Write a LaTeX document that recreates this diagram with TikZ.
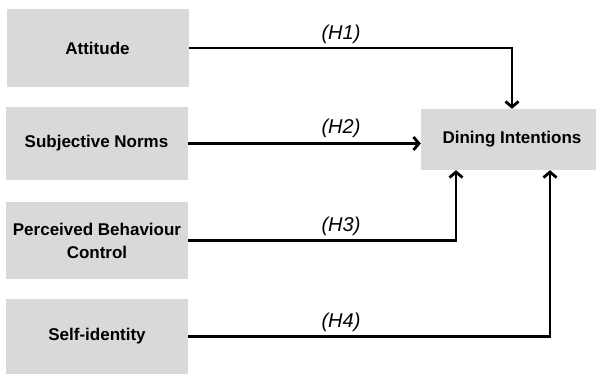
\documentclass[tikz,border=0pt]{standalone}
\usepackage{fontspec}
\setmainfont{Liberation Sans}
\usetikzlibrary{arrows.meta}
\definecolor{boxgray}{RGB}{217,217,217}
\tikzset{
  box/.style={fill=boxgray, draw=none, minimum width=182pt, align=center, inner sep=0pt,
    font=\fontsize{17}{23}\selectfont\bfseries},
  conn/.style={line width=2.8pt, -{Straight Barb[length=5.5pt,width=13pt]}},
  hyp/.style={font=\fontsize{20}{22}\selectfont\itshape, inner sep=0pt}
}
\begin{document}
\begin{tikzpicture}[x=1pt,y=-1pt]
\clip (0,0) rectangle (596,374);
\fill[white] (0,0) rectangle (596,374);
\node[box, minimum height=78pt] (att) at (97.5,48) {Attitude};
\node[box, minimum height=73pt] (sn) at (96.5,143.5) {Subjective Norms};
\node[box, minimum height=77pt] (pbc) at (97,240.5) {Perceived Behaviour\\Control};
\node[box, minimum height=75pt] (si) at (97,336.5) {Self-identity};
\node[box, minimum height=61pt] (di) at (512,139.5) {Dining Intentions};

\draw[conn] (att.east) -| (di.north);
\draw[conn] (sn.east) -- (sn.east -| di.west);
\draw[conn] (pbc.east) -| ([xshift=-56pt]di.south);
\draw[conn] (si.east) -| ([xshift=38pt]di.south);

\node[hyp] (h1) at (341,34) {(H1)};
\node[hyp] (h2) at (341,128) {(H2)};
\node[hyp] (h3) at (341,226) {(H3)};
\node[hyp] (h4) at (341,322) {(H4)};
\end{tikzpicture}
\end{document}
